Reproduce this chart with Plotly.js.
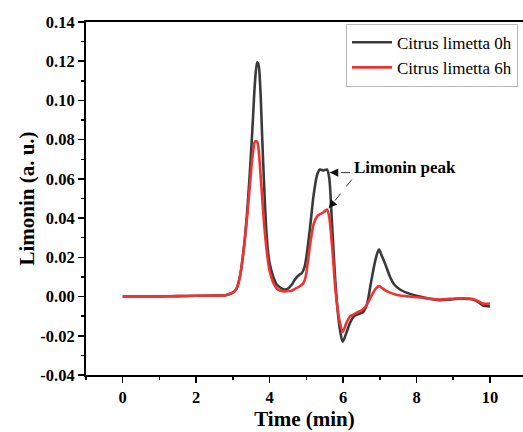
<!DOCTYPE html>
<html>
<head>
<meta charset="utf-8">
<script src="https://cdn.plot.ly/plotly-3.0.1.min.js"></script>
<style>
  html, body { margin: 0; padding: 0; background: #ffffff; overflow: hidden; }
  #chart { width: 523px; height: 432px; }
</style>
</head>
<body>
<div id="chart"></div>
<script>
// Retention time (min)
const time = [0, 0.5, 1, 1.5, 2, 2.5, 2.8, 3.0, 3.1, 3.2, 3.3, 3.4, 3.5, 3.55, 3.6, 3.66, 3.7, 3.75, 3.8, 3.85,
  3.9, 3.95, 4.0, 4.1, 4.2, 4.3, 4.4, 4.5, 4.6, 4.7, 4.8, 4.88, 4.95, 5.0, 5.1, 5.2, 5.3, 5.37, 5.47, 5.56,
  5.62, 5.7, 5.8, 5.9, 5.99, 6.1, 6.2, 6.3, 6.4, 6.54, 6.65, 6.75, 6.85, 6.93, 6.98, 7.05, 7.14, 7.28, 7.4, 7.55,
  7.8, 8.09, 8.4, 8.64, 8.9, 9.18, 9.4, 9.54, 9.7, 9.81, 10];

// Detector signal, Citrus limetta juice at 0 h
const limetta0h = [0, 0, 0.0001, 0.0002, 0.0004, 0.0005, 0.0007, 0.002, 0.004, 0.011, 0.025, 0.046, 0.075, 0.092, 0.109, 0.1195, 0.118, 0.105, 0.080, 0.057,
  0.037, 0.024, 0.017, 0.010, 0.006, 0.0045, 0.0036, 0.004, 0.006, 0.009, 0.011, 0.012, 0.015, 0.020, 0.035, 0.052, 0.0625, 0.0648, 0.0643, 0.0648,
  0.061, 0.037, 0.005, -0.015, -0.023, -0.018, -0.013, -0.010, -0.009, -0.008, -0.004, 0.006, 0.016, 0.022, 0.024, 0.021, 0.017, 0.010, 0.006, 0.0036,
  0.0015, 0.0, -0.0012, -0.0019, -0.0016, -0.001, -0.0012, -0.0015, -0.003, -0.0046, -0.005];

// Detector signal, Citrus limetta juice at 6 h
const limetta6h = [0, 0, 0.0001, 0.0002, 0.0004, 0.0005, 0.0007, 0.002, 0.004, 0.011, 0.025, 0.043, 0.065, 0.074, 0.079, 0.079, 0.075, 0.063, 0.050, 0.037,
  0.027, 0.019, 0.013, 0.007, 0.004, 0.003, 0.0026, 0.0028, 0.003, 0.004, 0.005, 0.006, 0.008, 0.012, 0.026, 0.037, 0.041, 0.042, 0.043, 0.0444,
  0.041, 0.026, 0.002, -0.012, -0.018, -0.013, -0.010, -0.009, -0.008, -0.0066, -0.004, -0.0005, 0.003, 0.0048, 0.0053, 0.0045, 0.0033, 0.002, 0.0012, 0.0005,
  0.0, -0.0005, -0.0012, -0.0015, -0.0012, -0.0009, -0.001, -0.0012, -0.0025, -0.0036, -0.0035];

const seriesNames = ['Citrus limetta 0h', 'Citrus limetta 6h'];

const xTickValues = [0, 2, 4, 6, 8, 10];
const xTickLabels = ['0', '2', '4', '6', '8', '10'];
const yTickValues = [-0.04, -0.02, 0.00, 0.02, 0.04, 0.06, 0.08, 0.10, 0.12, 0.14];
const yTickLabels = ['-0.04', '-0.02', '0.00', '0.02', '0.04', '0.06', '0.08', '0.10', '0.12', '0.14'];

const serif = 'Liberation Serif';
const bold = s => '<b>' + s + '</b>';

const traces = [
  {
    x: time, y: limetta0h, name: seriesNames[0], type: 'scatter', mode: 'lines',
    line: { color: '#3a3a3a', width: 2.6, shape: 'spline', smoothing: 0.8 }
  },
  {
    x: time, y: limetta6h, name: seriesNames[1], type: 'scatter', mode: 'lines',
    line: { color: '#f03232', width: 2.6, shape: 'spline', smoothing: 0.8 }
  }
];

// Peak markers: dashed leader lines with arrowheads at the limonin peaks
const labelX = 6.24, labelY = 0.0658;
const arrowTips = [
  { x: 5.64, y: 0.0632, fromX: 6.19, fromY: 0.0632 },
  { x: 5.61, y: 0.0450, fromX: 6.24, fromY: 0.0597 }
];

const shapes = arrowTips.map(a => ({
  type: 'line', xref: 'x', yref: 'y',
  x0: a.fromX, y0: a.fromY, x1: a.x, y1: a.y,
  line: { color: '#333333', width: 1, dash: 'dash' }
}));

const annotations = [
  {
    x: labelX, y: labelY, xref: 'x', yref: 'y', text: bold('Limonin peak'),
    showarrow: false, xanchor: 'left', yanchor: 'middle',
    font: { family: serif, size: 17, color: '#000000' }
  }
].concat(arrowTips.map(a => ({
  x: a.x, y: a.y, xref: 'x', yref: 'y', text: '',
  showarrow: true, arrowhead: 2, arrowsize: 1.4, arrowwidth: 1.2, arrowcolor: '#111111',
  axref: 'x', ayref: 'y',
  ax: a.x + (a.fromX - a.x) * 0.2, ay: a.y + (a.fromY - a.y) * 0.2
})));

const layout = {
  width: 523, height: 432,
  margin: { l: 86, r: 0, t: 22, b: 57, autoexpand: false },
  paper_bgcolor: '#ffffff', plot_bgcolor: '#ffffff',
  font: { family: serif, color: '#000000' },
  showlegend: true,
  legend: {
    x: 0.595, y: 0.995, xanchor: 'left', yanchor: 'top',
    bgcolor: '#ffffff', bordercolor: '#b8b8b8', borderwidth: 1,
    font: { family: serif, size: 17, color: '#000000' },
    itemwidth: 40, tracegroupgap: 0
  },
  xaxis: {
    range: [-1, 10.9],
    tickmode: 'array', tickvals: xTickValues, ticktext: xTickLabels.map(bold),
    showgrid: false, zeroline: false,
    showline: true, linecolor: '#000000', linewidth: 2, mirror: true,
    ticks: 'outside', ticklen: 6, tickwidth: 1.5, tickcolor: '#000000',
    tickfont: { family: serif, size: 16.5, color: '#000000' },
    minor: { tickmode: 'linear', tick0: 1, dtick: 2, ticks: 'outside', ticklen: 3, tickwidth: 1.5, tickcolor: '#000000', showgrid: false },
    title: { text: bold('Time (min)'), font: { family: serif, size: 21, color: '#000000' }, standoff: 6 }
  },
  yaxis: {
    range: [-0.04, 0.14],
    tickmode: 'array', tickvals: yTickValues, ticktext: yTickLabels.map(bold),
    showgrid: false, zeroline: false,
    showline: true, linecolor: '#000000', linewidth: 2,
    ticks: 'outside', ticklen: 6, tickwidth: 1.5, tickcolor: '#000000',
    tickfont: { family: serif, size: 16.5, color: '#000000' },
    minor: { tickmode: 'linear', tick0: -0.03, dtick: 0.02, ticks: 'outside', ticklen: 3, tickwidth: 1.5, tickcolor: '#000000', showgrid: false },
    title: { text: bold('Limonin (a. u.)'), font: { family: serif, size: 21, color: '#000000' }, standoff: 0 }
  },
  shapes: shapes,
  annotations: annotations
};

Plotly.newPlot('chart', traces, layout, { displayModeBar: false, staticPlot: true });
</script>
</body>
</html>
